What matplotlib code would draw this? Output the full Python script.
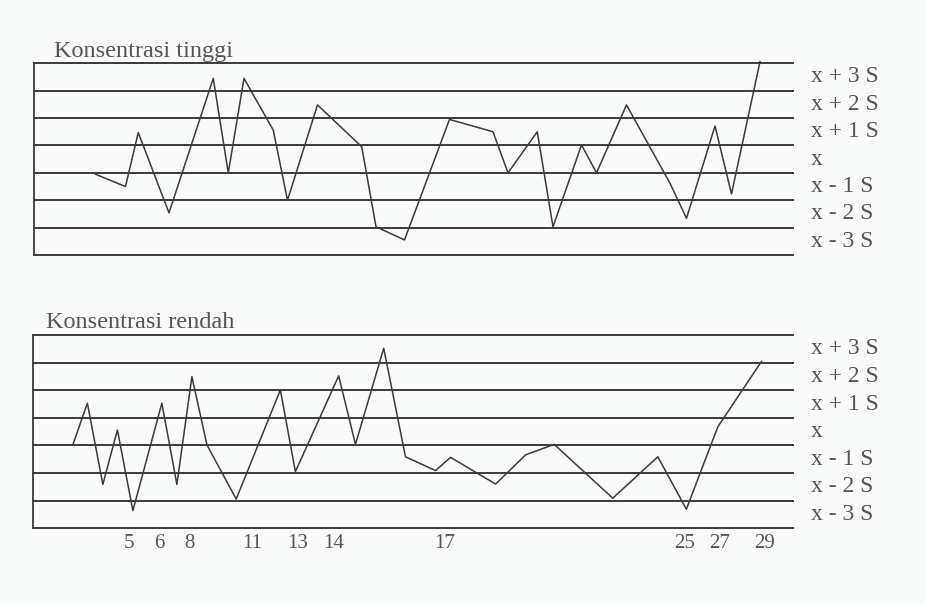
import numpy as np
import matplotlib.pyplot as plt

# posisi sampel (satuan sumbu x) dan level (0 = garis bawah, 7 = garis atas)
tinggi_x = [4.1, 6.1, 6.95, 9.0, 11.95, 12.95, 14.0, 15.95, 16.9, 18.9, 21.85, 22.8,
            24.7, 27.7, 30.6, 31.6, 33.55, 34.6, 36.5, 37.5, 39.5, 42.4, 43.5, 45.4,
            46.5, 48.4]
tinggi_y = [2.95, 2.5, 4.47, 1.54, 6.45, 3.0, 6.45, 4.56, 2.0, 5.48, 3.95, 1.03,
            0.55, 4.95, 4.5, 3.0, 4.5, 1.03, 4.02, 3.0, 5.48, 2.62, 1.34, 4.71,
            2.23, 7.06]

rendah_x = [2.65, 3.62, 4.65, 5.62, 6.65, 8.58, 9.58, 10.58, 11.58, 13.53, 16.47,
            17.47, 20.35, 21.47, 23.35, 24.8, 26.8, 27.8, 30.8, 32.8, 34.7, 38.6,
            41.6, 43.5, 45.6, 48.5]
rendah_y = [3.02, 4.53, 1.59, 3.56, 0.64, 4.53, 1.59, 5.49, 3.02, 1.06, 5.01, 2.05,
            5.52, 3.04, 6.52, 2.59, 2.09, 2.57, 1.6, 2.66, 3.04, 1.09, 2.59, 0.69,
            3.68, 6.04]

batas_label = ['x + 3 S', 'x + 2 S', 'x + 1 S', 'x', 'x - 1 S', 'x - 2 S', 'x - 3 S']
tick_pos = [6.4, 8.4, 10.4, 14.6, 17.6, 20.0, 27.4, 43.4, 45.7, 48.7]
tick_lbl = ['5', '6', '8', '11', '13', '14', '17', '25', '27', '29']

W, H = 925, 603
bg = '#f9fafa'
ink = '#3a3a3a'
txt = '#555555'
plt.rcParams['font.family'] = ['Liberation Serif', 'DejaVu Serif']

fig = plt.figure(figsize=(W / 100, H / 100), dpi=100, facecolor=bg)


def box(x0, x1, ytop, ybot):
    return [x0 / W, 1 - ybot / H, (x1 - x0) / W, (ybot - ytop) / H]


panels = [
    (box(34, 793, 63.3, 255), tinggi_x, tinggi_y, 'Konsentrasi tinggi', 54, 1.031, False),
    (box(33, 793, 335, 528.3), rendah_x, rendah_y, 'Konsentrasi rendah', 46, 1.036, True),
]

for pos, xs, ys, judul, judul_x, judul_y, show_ticks in panels:
    ax = fig.add_axes(pos)
    ax.set_facecolor('none')
    ax.set_xlim(0, 50.6)
    ax.set_ylim(0, 7)
    for lv in range(8):
        ax.axhline(lv, color=ink, lw=1.4, clip_on=False)
    for s in ['top', 'right', 'bottom']:
        ax.spines[s].set_visible(False)
    ax.spines['left'].set_color(ink)
    ax.spines['left'].set_linewidth(1.3)
    ax.plot(xs, ys, color=ink, lw=1.1, clip_on=False)
    ax.set_yticks([])
    for i, lab in enumerate(batas_label):
        ax.text(1.024, 6.5 - i, lab, transform=ax.get_yaxis_transform(),
                ha='left', va='center', fontsize=17, color=txt)
    ax.text((judul_x - pos[0] * W) / (pos[2] * W), judul_y, judul, transform=ax.transAxes,
            ha='left', va='baseline', fontsize=17.5, color=txt)
    if show_ticks:
        ax.set_xticks(tick_pos)
        ax.set_xticklabels(tick_lbl, fontsize=15, color=txt)
        ax.tick_params(axis='x', length=0, pad=4)
    else:
        ax.set_xticks([])

fig.savefig('out.png', dpi=100, facecolor=bg)
